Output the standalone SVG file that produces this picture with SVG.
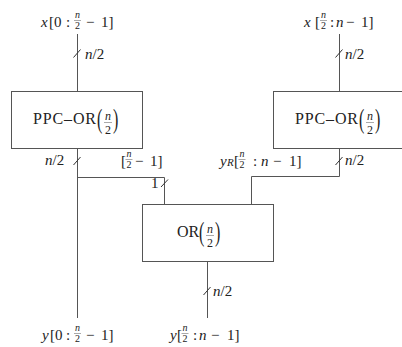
<svg xmlns="http://www.w3.org/2000/svg" width="402" height="347" viewBox="0 0 402 347">
<style>
text{font-family:"Liberation Serif","Times New Roman","DejaVu Serif",serif;fill:#222}
.m{font-size:15px}
.i{font-style:italic}
.s{font-size:10px;text-anchor:middle}
.bx{font-size:16px}
.bf{font-size:12px;text-anchor:middle}
.c{fill:none;stroke:#555;stroke-width:1}
.r{fill:#fff;stroke:#555;stroke-width:1}
.fb{stroke:#555;stroke-width:0.5}
.sl{stroke:#333;stroke-width:1}
</style>
<rect width="402" height="347" fill="#fff"/>
<g id="connectors">
<path class="c" d="M77.5 34V91"/>
<path class="c" d="M339.5 34V91"/>
<path class="c" d="M77.5 148V318"/>
<path class="c" d="M77.5 177.5H164.5V204"/>
<path class="c" d="M339.5 148V176.5H251.5V204"/>
<path class="c" d="M207.5 261V318"/>
<line class="sl" x1="73.5" y1="57.5" x2="80.5" y2="49.5"/>
<line class="sl" x1="335.5" y1="57.5" x2="342.5" y2="49.5"/>
<line class="sl" x1="73.5" y1="165" x2="80.5" y2="157"/>
<line class="sl" x1="161" y1="187" x2="168" y2="179.5"/>
<line class="sl" x1="335.5" y1="165" x2="342.5" y2="157"/>
<line class="sl" x1="203.5" y1="295" x2="210.5" y2="287"/>
<text class="m" x="85" y="59"><tspan class="i">n</tspan>/2</text>
<text class="m" x="345" y="59"><tspan class="i">n</tspan>/2</text>
<text class="m" x="45" y="165"><tspan class="i">n</tspan>/2</text>
<text class="m" x="345" y="165"><tspan class="i">n</tspan>/2</text>
<text class="m" x="213" y="296"><tspan class="i">n</tspan>/2</text>
<text class="m" x="151" y="188">1</text>
<text class="m" x="121" y="166">[</text>
<text class="s i" x="129" y="157">n</text>
<line class="fb" x1="125.5" y1="159.5" x2="132.5" y2="159.5"/>
<text class="s" x="129" y="168">2</text>
<text class="m" x="135" y="166">−</text>
<text class="m" x="150" y="166">1]</text>
<text class="m i" x="220" y="166">y</text>
<text class="i" style="font-size:11px" x="227" y="166">R</text>
<text class="m" x="234" y="166">[</text>
<text class="s i" x="242" y="157">n</text>
<line class="fb" x1="238.5" y1="159.5" x2="245.5" y2="159.5"/>
<text class="s" x="242" y="168">2</text>
<text class="m" x="253" y="166">:</text>
<text class="m i" x="261" y="166">n</text>
<text class="m" x="273" y="166">−</text>
<text class="m" x="289" y="166">1]</text>
</g>
<g id="input-left">
<text class="m i" x="41" y="27">x</text>
<text class="m" x="49" y="27">[0</text>
<text class="m" x="66" y="27">:</text>
<text class="s i" x="77.5" y="18">n</text>
<line class="fb" x1="74" y1="20.5" x2="81" y2="20.5"/>
<text class="s" x="77.5" y="29">2</text>
<text class="m" x="86" y="27">−</text>
<text class="m" x="101" y="27">1]</text>
</g>
<g id="input-right">
<text class="m i" x="304" y="27">x</text>
<text class="m" x="315" y="27">[</text>
<text class="s i" x="323.5" y="18">n</text>
<line class="fb" x1="320" y1="20.5" x2="327" y2="20.5"/>
<text class="s" x="323.5" y="29">2</text>
<text class="m" x="330" y="27">:</text>
<text class="m i" x="336" y="27">n</text>
<text class="m" x="346" y="27">−</text>
<text class="m" x="361" y="27">1]</text>
</g>
<g id="ppc-left">
<rect class="r" x="11.5" y="91.5" width="131" height="57"/>
<text class="bx" x="33" y="124" textLength="63">PPC–OR</text>
<text class="bx" transform="translate(97,128) scale(1,1.7)">(</text>
<text class="bf i" x="108" y="119.5">n</text>
<line class="fb" x1="104" y1="122.5" x2="112" y2="122.5"/>
<text class="bf" x="108" y="134">2</text>
<text class="bx" transform="translate(113,128) scale(1,1.7)">)</text>
</g>
<g id="ppc-right">
<rect class="r" x="273.5" y="91.5" width="140" height="57"/>
<text class="bx" x="295" y="124" textLength="63">PPC–OR</text>
<text class="bx" transform="translate(359,128) scale(1,1.7)">(</text>
<text class="bf i" x="370" y="119.5">n</text>
<line class="fb" x1="366" y1="122.5" x2="374" y2="122.5"/>
<text class="bf" x="370" y="134">2</text>
<text class="bx" transform="translate(375,128) scale(1,1.7)">)</text>
</g>
<g id="or">
<rect class="r" x="142.5" y="204.5" width="131" height="57"/>
<text class="bx" x="177" y="237">OR</text>
<text class="bx" transform="translate(199,241) scale(1,1.7)">(</text>
<text class="bf i" x="210" y="232.5">n</text>
<line class="fb" x1="206" y1="235.5" x2="214" y2="235.5"/>
<text class="bf" x="210" y="247">2</text>
<text class="bx" transform="translate(215,241) scale(1,1.7)">)</text>
</g>
<g id="output-left">
<text class="m i" x="42" y="340">y</text>
<text class="m" x="50" y="340">[0</text>
<text class="m" x="66" y="340">:</text>
<text class="s i" x="77.5" y="331">n</text>
<line class="fb" x1="74" y1="333.5" x2="81" y2="333.5"/>
<text class="s" x="77.5" y="342">2</text>
<text class="m" x="86" y="340">−</text>
<text class="m" x="101" y="340">1]</text>
</g>
<g id="output-right">
<text class="m i" x="170" y="340">y</text>
<text class="m" x="177" y="340">[</text>
<text class="s i" x="185" y="331">n</text>
<line class="fb" x1="181.5" y1="333.5" x2="188.5" y2="333.5"/>
<text class="s" x="185" y="342">2</text>
<text class="m" x="193" y="340">:</text>
<text class="m i" x="199" y="340">n</text>
<text class="m" x="211" y="340">−</text>
<text class="m" x="227" y="340">1]</text>
</g>
</svg>
